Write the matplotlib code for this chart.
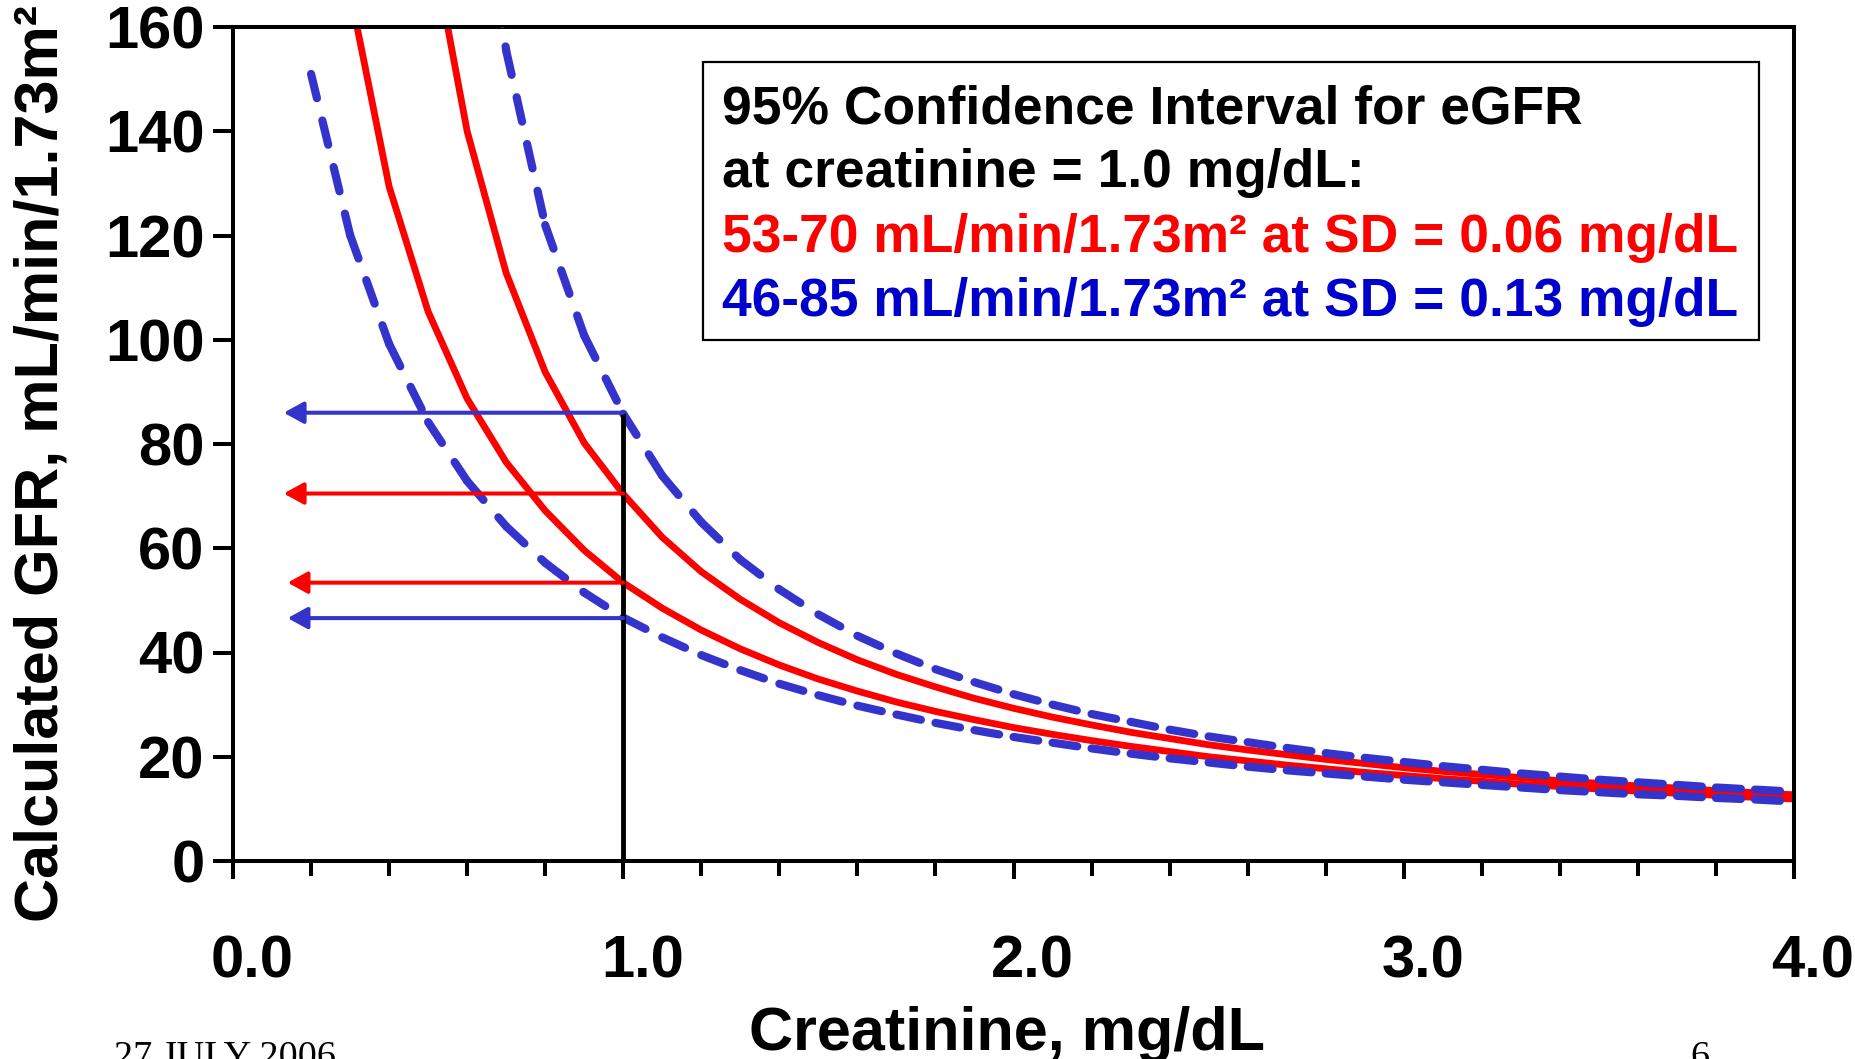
import matplotlib
matplotlib.use("Agg")
import numpy as np
import matplotlib.pyplot as plt
import matplotlib.transforms as mtransforms
from matplotlib.collections import LineCollection
from matplotlib.patches import Rectangle
from matplotlib.ticker import MultipleLocator, FormatStrFormatter

plt.rcParams['font.family'] = ['Liberation Sans', 'DejaVu Sans']
plt.rcParams['font.weight'] = 'bold'
plt.rcParams['lines.scale_dashes'] = False

# ---------------- data ----------------
creatinine = [0.2, 0.3, 0.4, 0.5, 0.6, 0.7, 0.8, 0.9, 1.0, 1.1, 1.2, 1.3, 1.4,
              1.5, 1.6, 1.7, 1.8, 1.9, 2.0, 2.1, 2.2, 2.3, 2.4, 2.5, 2.6, 2.7,
              2.8, 2.9, 3.0, 3.1, 3.2, 3.3, 3.4, 3.5, 3.6, 3.7, 3.8, 3.9, 4.0]

red_lower = [None, 166.7, 129.4, 105.4, 88.7, 76.5, 67.2, 59.6, 53.4, 48.5,
             44.3, 40.7, 37.6, 34.9, 32.6, 30.5, 28.7, 27.1, 25.6, 24.3, 23.1,
             22.0, 21.0, 20.0, 19.2, 18.4, 17.7, 17.0, 16.4, 15.8, 15.3, 14.7,
             14.3, 13.8, 13.4, 13.0, 12.6, 12.2, 11.9]

red_upper = [None, None, None, 180.0, 140.0, 112.8, 93.8, 80.2, 70.4, 62.1,
             55.5, 50.2, 45.7, 41.9, 38.6, 35.8, 33.4, 31.2, 29.3, 27.6, 26.1,
             24.7, 23.5, 22.3, 21.3, 20.4, 19.5, 18.7, 17.9, 17.2, 16.6, 16.0,
             15.4, 14.9, 14.4, 14.0, 13.5, 13.1, 12.7]

blue_lower = [151.0, 120.1, 99.2, 84.2, 72.9, 64.2, 57.2, 51.5, 46.7, 42.9,
              39.5, 36.6, 34.0, 31.8, 29.8, 28.1, 26.5, 25.1, 23.8, 22.7, 21.6,
              20.6, 19.7, 18.9, 18.1, 17.4, 16.8, 16.2, 15.6, 15.1, 14.6, 14.1,
              13.6, 13.2, 12.8, 12.5, 12.1, 11.8, 11.4]

blue_upper = [None, None, None, None, 207.8, 155.5, 122.0, 100.8, 85.8, 73.9,
              65.0, 57.8, 52.1, 47.3, 43.2, 39.8, 36.8, 34.3, 32.0, 30.0, 28.2,
              26.7, 25.2, 23.9, 22.8, 21.7, 20.7, 19.8, 19.0, 18.2, 17.5, 16.8,
              16.2, 15.6, 15.1, 14.6, 14.1, 13.7, 13.3]

ref_creatinine = 1.0
arrow_values = [86.0, 70.5, 53.4, 46.6]
arrow_tips = [0.13, 0.13, 0.14, 0.14]

xticks = [0.0, 1.0, 2.0, 3.0, 4.0]
yticks = [0, 20, 40, 60, 80, 100, 120, 140, 160]

box_lines = [
    "95% Confidence Interval for eGFR",
    "at creatinine = 1.0 mg/dL:",
    "53-70 mL/min/1.73m\u00b2 at SD = 0.06 mg/dL",
    "46-85 mL/min/1.73m\u00b2 at SD = 0.13 mg/dL",
]

# ---------------- styles ----------------
RED = '#FF0000'
BLUE_LINE = '#3434CC'
BLUE_TEXT = '#0000CC'
box_colors = ['black', 'black', RED, BLUE_TEXT]
arrow_colors = [BLUE_LINE, RED, RED, BLUE_LINE]

W, H = 1856, 1059
fig = plt.figure(figsize=(W / 100, H / 100), dpi=100)
fig.patch.set_facecolor('white')
ax = fig.add_axes([233 / W, 1 - 861 / H, (1794 - 233) / W, (861 - 27) / H])


def fx(px):
    return px / W


def fy(py):
    return 1 - py / H


x = np.array(creatinine, dtype=float)


def arr(v):
    return np.array([np.nan if a is None else a for a in v], dtype=float)


# red solid curves
for ys in (red_lower, red_upper):
    ax.plot(x, arr(ys), color=RED, lw=4.9, solid_joinstyle='miter',
            solid_capstyle='butt', zorder=2)

# blue dashed curves: each segment drawn separately (dash restarts per segment)
for ys in (blue_lower, blue_upper):
    y = arr(ys)
    segs = []
    for i in range(len(x) - 1):
        if np.isfinite(y[i]) and np.isfinite(y[i + 1]):
            segs.append([(x[i], y[i]), (x[i + 1], y[i + 1])])
    lc = LineCollection(segs, colors=BLUE_LINE, linewidths=5.9,
                        linestyles=[(0, (18, 16.5))], capstyle='round', zorder=3)
    ax.add_collection(lc)

# vertical reference line
ax.plot([ref_creatinine, ref_creatinine], [0, max(arrow_values)], color='black',
        lw=3.5, zorder=4, solid_capstyle='butt')

# arrows
for yv, tip, c in zip(arrow_values, arrow_tips, arrow_colors):
    ax.annotate('', xy=(tip, yv), xytext=(ref_creatinine, yv),
                arrowprops=dict(arrowstyle='-|>,head_length=0.4,head_width=0.22',
                                color=c, lw=2.9, mutation_scale=30,
                                shrinkA=0, shrinkB=0),
                zorder=5)

ax.set_xlim(0, 4)
ax.set_ylim(0, 160)
ax.set_xticks(xticks)
ax.set_yticks(yticks)
ax.xaxis.set_major_formatter(FormatStrFormatter('%.1f'))
ax.xaxis.set_minor_locator(MultipleLocator(0.2))
for s in ax.spines.values():
    s.set_linewidth(2.9)
    s.set_color('black')
ax.tick_params(axis='x', which='major', direction='out', length=13, width=2.9,
               pad=40, labelsize=43)
ax.tick_params(axis='x', which='minor', direction='out', length=10.5, width=2.9)
ax.tick_params(axis='y', which='major', direction='out', length=14.4, width=2.9,
               pad=6, labelsize=43)
shift = mtransforms.ScaledTranslation(0.19, 0, fig.dpi_scale_trans)
for lab in ax.get_xticklabels():
    lab.set_fontweight('bold')
    lab.set_transform(lab.get_transform() + shift)
for lab in ax.get_yticklabels():
    lab.set_fontweight('bold')

# axis titles
fig.text(fx(58), fy(463.5), "Calculated GFR, mL/min/1.73m\u00b2", rotation=90,
         rotation_mode='anchor', ha='center', va='baseline', fontsize=44,
         fontweight='bold')
fig.text(fx(1007), fy(1050), "Creatinine, mg/dL", ha='center', va='baseline',
         fontsize=44, fontweight='bold')

# annotation box
box = Rectangle((fx(703), fy(340)), (1759 - 703) / W, (340 - 61.5) / H,
                transform=fig.transFigure, facecolor='white', edgecolor='black',
                lw=1.6, zorder=10)
fig.add_artist(box)
baselines = [124, 186.7, 251.7, 315.7]
for txt, c, b in zip(box_lines, box_colors, baselines):
    fig.text(fx(722), fy(b), txt, color=c, ha='left', va='baseline',
             fontsize=38.4, fontweight='bold', zorder=11)

# footer
fig.text(fx(114), fy(1067), "27 JULY 2006", family='Liberation Serif',
         fontweight='normal', fontsize=27.5, ha='left', va='baseline')
fig.text(fx(1690), fy(1067), "6", family='Liberation Serif',
         fontweight='normal', fontsize=27.5, ha='left', va='baseline')

fig.savefig('out.png', dpi=100, facecolor='white')
